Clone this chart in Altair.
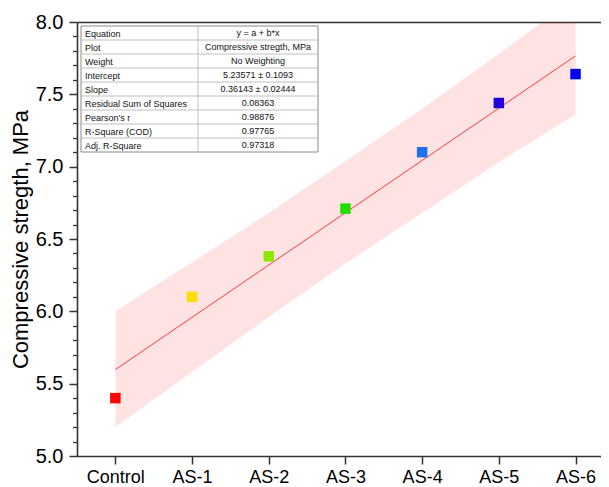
import altair as alt
import pandas as pd

# ---- data ----
categories = ["Control", "AS-1", "AS-2", "AS-3", "AS-4", "AS-5", "AS-6"]
positions = [1, 2, 3, 4, 5, 6, 7]
strength = [5.40, 6.10, 6.38, 6.71, 7.10, 7.44, 7.64]
point_colors = ["#FF0000", "#FFDD00", "#8FE600", "#22DD00", "#1E70F0", "#2200DD", "#0000EE"]
band_lower = [5.20, 5.58, 5.96, 6.33, 6.68, 7.03, 7.36]
band_upper = [6.00, 6.34, 6.68, 7.04, 7.40, 7.78, 8.17]

table_keys = ["Equation", "Plot", "Weight", "Intercept", "Slope",
              "Residual Sum of Squares", "Pearson's r", "R-Square (COD)", "Adj. R-Square"]
table_vals = ["y = a + b*x", "Compressive stregth, MPa", "No Weighting",
              "5.23571 \u00b1 0.1093", "0.36143 \u00b1 0.02444", "0.08363",
              "0.98876", "0.97765", "0.97318"]

y_major = [5.0, 5.5, 6.0, 6.5, 7.0, 7.5, 8.0]
y_minor = [5.1, 5.2, 5.3, 5.4, 5.6, 5.7, 5.8, 5.9, 6.1, 6.2, 6.3, 6.4, 6.6, 6.7, 6.8, 6.9,
           7.1, 7.2, 7.3, 7.4, 7.6, 7.7, 7.8, 7.9]

FONT = "Liberation Sans"
AX = "#333333"

df = pd.DataFrame({"x": positions, "y": strength, "cat": categories,
                   "lo": band_lower, "hi": band_upper})

xscale = alt.Scale(domain=[0.5, 7.332], nice=False, zero=False)
yscale = alt.Scale(domain=[5.0, 8.0], nice=False, zero=False)

label_expr = "[" + ",".join("'%s'" % c for c in categories) + "][datum.value - 1]"

x_bottom = alt.Axis(values=positions, labelExpr=label_expr, title=None, orient="bottom",
                    grid=False, tickSize=8, tickWidth=1.5, tickColor=AX, domainColor=AX,
                    domainWidth=1.6, labelFont=FONT, labelFontSize=18, labelColor="#000",
                    labelPadding=4)
x_top = alt.Axis(orient="top", labels=False, ticks=False, title=None, grid=False,
                 domainColor=AX, domainWidth=1.6)
y_main = alt.Axis(values=y_major, format=".1f", orient="left", grid=False, tickSize=8,
                  tickWidth=1.5, tickColor=AX, domainColor=AX, domainWidth=1.6,
                  labelFont=FONT, labelFontSize=20, labelColor="#000", labelPadding=6,
                  title="Compressive stregth, MPa", titleFont=FONT, titleFontSize=22,
                  titleFontWeight="normal", titleColor="#000", titlePadding=3)
y_minor_ax = alt.Axis(values=y_minor, orient="left", grid=False, labels=False, tickSize=4.5,
                      tickWidth=1.3, tickColor=AX, domain=False, title=None)

base = alt.Chart(df)

band = base.mark_area(color="#FF0000", opacity=0.11, clip=True).encode(
    x=alt.X("x:Q", scale=xscale, axis=x_top),
    y=alt.Y("lo:Q", scale=yscale, axis=y_minor_ax),
    y2="hi:Q",
)

fit = base.transform_regression("x", "y", extent=[1, 7]).mark_line(
    color="#FF3B3B", strokeWidth=1, clip=True
).encode(
    x=alt.X("x:Q", scale=xscale, axis=None),
    y=alt.Y("y:Q", scale=yscale, axis=None),
)

points = base.mark_square(size=110, opacity=1).encode(
    x=alt.X("x:Q", scale=xscale, axis=x_bottom),
    y=alt.Y("y:Q", scale=yscale, axis=y_main),
    color=alt.Color("cat:N", scale=alt.Scale(domain=categories, range=point_colors), legend=None),
)

# ---- statistics table (pixel layout inside the plot area) ----
row_h = 14
t_left, t_right, t_top, t_div = 4, 241, 4, 121
n = len(table_keys)
tdf = pd.DataFrame({"key": table_keys, "val": table_vals, "row": list(range(n))})

tbl_bg = alt.Chart(pd.DataFrame({"a": [0]})).mark_rect(
    fill="white", stroke="#8a8a8a", strokeWidth=1
).encode(
    x=alt.value(t_left), x2=alt.value(t_right),
    y=alt.value(t_top), y2=alt.value(t_top + n * row_h),
)
tbl_hlines = alt.Chart(tdf[tdf["row"] > 0]).transform_calculate(
    py="%d + datum.row * %d" % (t_top, row_h)
).mark_rule(color="#b0b0b0", strokeWidth=0.8).encode(
    x=alt.value(t_left), x2=alt.value(t_right),
    y=alt.Y("py:Q", scale=None, axis=None),
)
tbl_vline = alt.Chart(pd.DataFrame({"a": [0]})).mark_rule(color="#b0b0b0", strokeWidth=0.8).encode(
    x=alt.value(t_div), y=alt.value(t_top), y2=alt.value(t_top + n * row_h),
)
tbl_keys = alt.Chart(tdf).transform_calculate(
    py="%d + datum.row * %d + %f" % (t_top, row_h, row_h / 2 + 0.5)
).mark_text(align="left", baseline="middle", font=FONT, fontSize=9, color="#111").encode(
    x=alt.value(t_left + 4),
    y=alt.Y("py:Q", scale=None, axis=None),
    text="key:N",
)
tbl_vals = alt.Chart(tdf).transform_calculate(
    py="%d + datum.row * %d + %f" % (t_top, row_h, row_h / 2 - 0.5)
).mark_text(align="center", baseline="middle", font=FONT, fontSize=9, color="#111").encode(
    x=alt.value((t_div + t_right) / 2),
    y=alt.Y("py:Q", scale=None, axis=None),
    text="val:N",
)

chart = alt.layer(
    band, fit, points, tbl_bg, tbl_hlines, tbl_vline, tbl_keys, tbl_vals
).resolve_axis(
    x="independent", y="independent"
).properties(
    width=524, height=434,
    autosize=alt.AutoSizeParams(type="none"),
    padding={"left": 69, "top": 14, "right": 0, "bottom": 30},
    background="white",
).configure_view(stroke=None)

chart.save("out.html", embed_options={"renderer": "svg", "actions": False})
